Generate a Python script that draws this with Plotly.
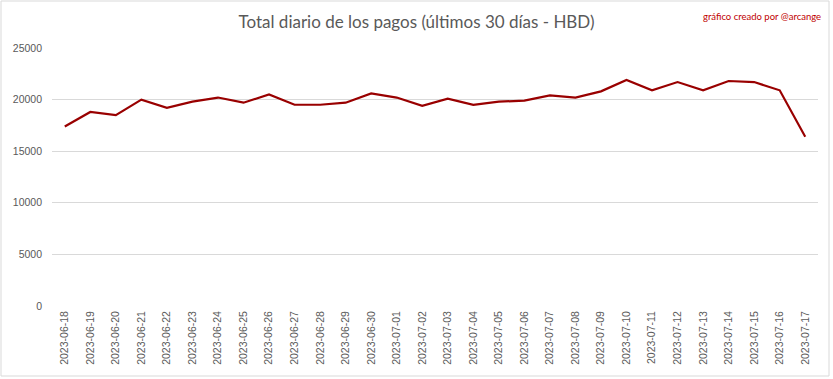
import plotly.graph_objects as go

dates = ["2023-06-18","2023-06-19","2023-06-20","2023-06-21","2023-06-22","2023-06-23",
         "2023-06-24","2023-06-25","2023-06-26","2023-06-27","2023-06-28","2023-06-29",
         "2023-06-30","2023-07-01","2023-07-02","2023-07-03","2023-07-04","2023-07-05",
         "2023-07-06","2023-07-07","2023-07-08","2023-07-09","2023-07-10","2023-07-11",
         "2023-07-12","2023-07-13","2023-07-14","2023-07-15","2023-07-16","2023-07-17"]
values = [17400, 18800, 18500, 20000, 19200, 19800,
          20200, 19700, 20500, 19500, 19500, 19700,
          20600, 20200, 19400, 20100, 19500, 19800,
          19900, 20400, 20200, 20800, 21900, 20900,
          21700, 20900, 21800, 21700, 20900, 16400]
y_ticks = [0, 5000, 10000, 15000, 20000, 25000]

W, H = 833, 379
L, R, T, B = 52, 15, 48, 73
pw, ph = W - L - R, H - T - B

fig = go.Figure(go.Scatter(
    x=list(range(len(dates))), y=values, mode="lines",
    line=dict(color="#990000", width=2.2), hoverinfo="skip"))

fig.update_layout(
    width=W, height=H,
    margin=dict(l=L, r=R, t=T, b=B, autoexpand=False),
    paper_bgcolor="white", plot_bgcolor="white",
    showlegend=False,
    font=dict(family="Liberation Sans, Arial, sans-serif", color="#595959", size=10),
    title=dict(text="Total diario de los pagos (últimos 30 días - HBD)",
               x=0.5, xanchor="center", y=1 - 22 / H, yanchor="middle",
               font=dict(family="Lato, Open Sans, sans-serif", size=17, color="#595959")),
    xaxis=dict(range=[-0.5, len(dates) - 0.5], tickmode="array",
               tickvals=list(range(len(dates))), ticktext=dates, tickangle=-90,
               showgrid=False, zeroline=False, showline=False, ticks="",
               automargin=False, ticklabelstandoff=2,
               tickfont=dict(size=10.5, color="#595959")),
    yaxis=dict(range=[0, 25000], tickmode="array", tickvals=y_ticks,
               ticktext=[str(v) for v in y_ticks],
               showgrid=True, gridcolor="#d9d9d9", gridwidth=1,
               zeroline=False, showline=False, ticks="", automargin=False,
               ticklabelstandoff=9,
               tickfont=dict(size=10.5, color="#595959")),
    shapes=[dict(type="rect", xref="paper", yref="paper",
                 x0=(1 - L) / pw, x1=(W - 4 - L) / pw,
                 y0=(T + ph - (H - 3)) / ph, y1=(T + ph - 1) / ph,
                 line=dict(color="#d9d9d9", width=1), fillcolor="rgba(0,0,0,0)", layer="below")],
    annotations=[dict(text="gráfico creado por @arcange", xref="paper", yref="paper",
                      x=(823 - L) / pw, y=(T + ph - 16) / ph, xanchor="right", yanchor="middle",
                      showarrow=False,
                      font=dict(family="Lato, sans-serif", size=9.5, color="#C00000"))],
)

fig.write_html("out.html", config={"displayModeBar": False},
               post_script="document.body.style.margin='0';")
